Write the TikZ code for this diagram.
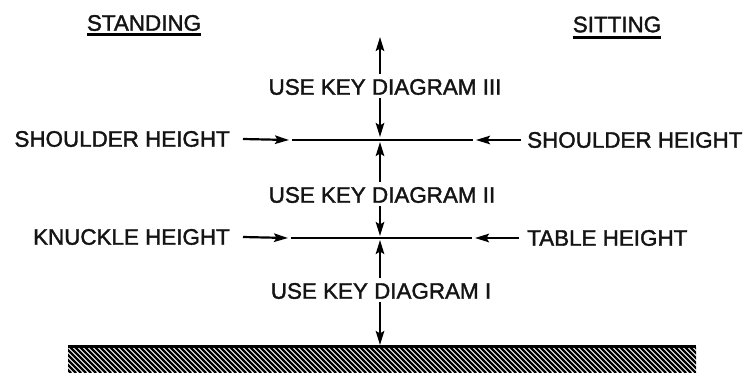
\documentclass[tikz,border=0pt]{standalone}
\usepackage{fontspec}
\setmainfont{Liberation Sans}
\newfontfamily\labfont{Liberation Sans}[FakeBold=1.6]
\usetikzlibrary{arrows.meta}
\tikzset{
  lbl/.style={inner sep=0pt, font=\labfont\fontsize{22.4bp}{26bp}\selectfont, text=black!92},
  arr/.style={line width=2.2bp, -{Stealth[length=14bp,width=8.5bp,inset=2.5bp]}},
  lev/.style={line width=2.6bp},
  uline/.style={line width=2.4bp}
}
\begin{document}
\begin{tikzpicture}[x=1bp,y=-1bp]
\useasboundingbox (0,0) rectangle (749,372);
\fill[white] (0,0) rectangle (749,372);
% headings
\node[lbl] (st) at (144,23) {STANDING};
\node[lbl] (si) at (617,24.5) {SITTING};
\draw[uline] ([yshift=-3.5bp]st.south west) -- ([yshift=-3.5bp]st.south east);
\draw[uline] ([yshift=-5bp]si.south west) -- ([yshift=-5bp]si.south east);
% center texts
\node[lbl] (t3) at (385,87) {USE KEY DIAGRAM III};
\node[lbl] (t2) at (382,195) {USE KEY DIAGRAM II};
\node[lbl] (t1) at (381,291) {USE KEY DIAGRAM I};
% side labels
\node[lbl, anchor=east] (lsh) at (230,139) {SHOULDER HEIGHT};
\node[lbl, anchor=east] (lkn) at (230,237) {KNUCKLE HEIGHT};
\node[lbl, anchor=west] (rsh) at (527,140) {SHOULDER HEIGHT};
\node[lbl, anchor=west] (rtb) at (527,238) {TABLE HEIGHT};
% level coordinates
\coordinate (top) at (380,37);
\coordinate (s1) at (292,140);
\coordinate (s2) at (473,140);
\coordinate (sc) at (380,140);
\coordinate (k1) at (291,238);
\coordinate (k2) at (472,238);
\coordinate (kc) at (380,238);
\coordinate (f1) at (68,346);
\coordinate (f2) at (696,346);
\coordinate (fc) at (380,346);
% level lines
\draw[lev] (s1) -- (s2);
\draw[lev] (k1) -- (k2);
\draw[line width=3bp] (f1) -- (f2);
% hatch
\begin{scope}
\clip (68,347) rectangle (696,372);
\foreach \i in {0,...,135} {
  \draw[line width=2.2bp] (40+\i*5,347) -- (40+\i*5+26,373);
}
\end{scope}
% horizontal arrows
\draw[arr] ([xshift=13bp]lsh.east) -- ([xshift=-3bp]s1);
\draw[arr] ([xshift=13bp]lkn.east) -- ([xshift=-3bp]k1);
\draw[arr] ([xshift=-6bp]rsh.west) -- ([xshift=3bp]s2);
\draw[arr] ([xshift=-8bp]rtb.west) -- ([xshift=3bp]k2);
% vertical arrows
\draw[arr] ([yshift=5bp]t3.north -| top) -- (top);
\draw[arr] ([yshift=-3bp]t3.south -| top) -- ([yshift=3bp]sc);
\draw[arr] ([yshift=5bp]t2.north -| top) -- ([yshift=-2bp]sc);
\draw[arr] ([yshift=-3bp]t2.south -| top) -- ([yshift=2bp]kc);
\draw[arr] ([yshift=5bp]t1.north -| top) -- ([yshift=-2bp]kc);
\draw[arr] ([yshift=-3bp]t1.south -| top) -- ([yshift=1bp]fc);
\end{tikzpicture}
\end{document}
